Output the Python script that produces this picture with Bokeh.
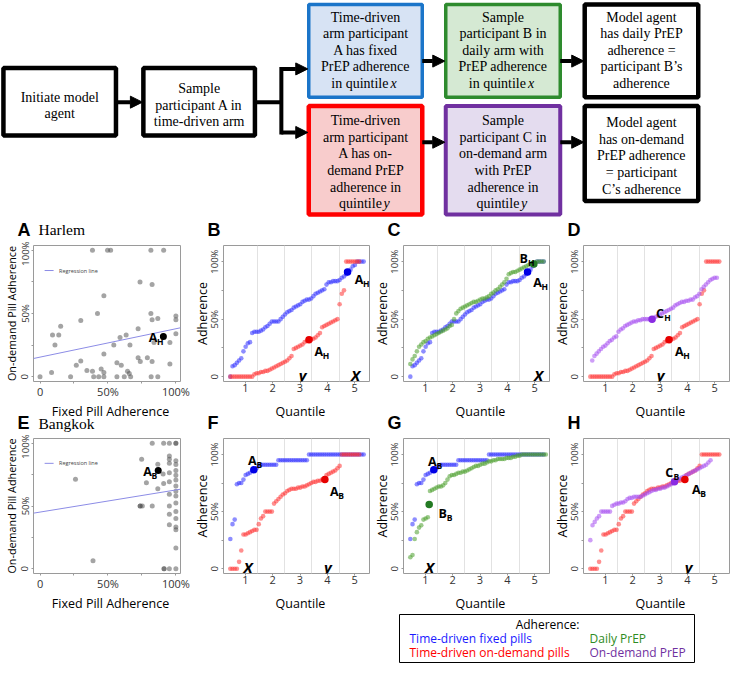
import math
from bokeh.plotting import figure
from bokeh.models import Range1d, Label, FixedTicker, Arrow, NormalHead
from bokeh.layouts import column, row
from bokeh.embed import file_html
from bokeh.resources import INLINE
from bokeh.core.properties import value

# ---------------- DATA ----------------
PCT_TICKS = [0, 25, 50, 75, 100]
PCT_LABELS = {0: "0", 25: "", 50: "50%", 75: "", 100: "100%"}
QUANT_TICKS = [1, 2, 3, 4, 5]
QUANT_BOUNDS = [1.43, 2.43, 3.43, 4.43]
STEP = 0.08  # spacing of one participant on the quantile axis

# Panel A (Harlem) scatter: fixed vs on-demand adherence (%)
HARLEM_FIXED = [0, 8.5, 9.2, 11, 13.8, 15.2, 22.5, 26.7, 30, 30, 34.5, 38.6, 38.6, 39.5, 42.3, 43.2, 45, 47, 47, 47,
                47, 49.7, 52, 54.3, 56.6, 56.6, 58.9, 59.8, 62, 63.4, 64.4, 65.7, 66.2, 66.7, 72.2, 72.2, 73.6, 73.8, 79, 81.6,
                81.6, 82.5, 82.5, 82.5, 81.8, 83.9, 86.7, 86.7, 91, 95.6, 95.6, 100, 100, 100]
HARLEM_ONDEM = [0, 3.3, 33, 25, 33, 40, 0, 9, 12.5, 44.5, 5, 100, 4.3, 0, 50, 0, 6, 64, 18, 3.3,
                0, 100, 100, 25, 11, 0, 31, 9, 0, 33, 4.3, 2.5, 25, 0, 38, 15, 75, 12, 15, 100,
                50, 73, 45, 12, 0, 27, 46, 0, 100, 27, 10, 48, 45, 34]
# Panel E (Bangkok) scatter
BANGKOK_FIXED = [26.1, 39, 74.8, 73.7, 73.7, 75.3, 78.3, 82.6, 82.6, 86.7, 86.7, 90.6, 91, 91, 91.3, 91.3,
                 95.2, 95.2, 95.2, 95.2, 95.2, 95.2, 95.2, 95.2, 95.2, 95.2, 95.2,
                 100, 100, 100, 100, 100, 100, 100, 100, 100, 100, 100, 100, 100, 100, 100, 100, 100]
BANGKOK_ONDEM = [71.4, 6.4, 87.2, 50, 50, 50, 68.6, 100, 50, 83.2, 63.8, 75.5, 100, 68, 0, 0,
                 100, 89.8, 87.2, 84, 76.5, 69.4, 59.4, 50, 43.4, 35, 0,
                 100, 100, 86, 83, 78.3, 74.5, 70.7, 66, 61.7, 58, 52.3, 45.7, 40, 33.2, 31.1, 16.6, 0]
REG_X = [-4.8, 103.4]
REG_HARLEM = [14.4, 38.7]
REG_BANGKOK = [44.3, 63.4]
A_H_POINT = (90.8, 31.8)
A_B_POINT = (87.0, 78.3)

# Quantile (sorted adherence, %) series, with x position of first participant
H_FIXED_X0 = 0.45
H_FIXED = [0, 9, 10, 12, 14, 16, 22, 26, 29, 30, 38, 39, 39, 39, 40, 41, 43, 44, 46, 48,
           48, 48, 48, 50, 52, 54, 56, 57, 58, 60, 61, 62, 63, 65, 66, 67, 67, 68, 70, 72,
           73, 74, 75, 76, 80, 82, 82, 83, 83, 83, 84, 86, 87, 89, 91, 93, 96, 97, 100, 100, 100, 100]
H_TDOD_X0 = 0.45
H_TDOD = [0, 0, 0, 0, 0, 0, 0, 0, 0, 0, 0, 2, 3, 3, 4, 4, 5, 5, 6, 7, 8, 9, 10, 11, 12, 13, 14, 16, 18, 24,
          25, 26, 27, 28, 30, 31, 32, 33, 33, 34, 36, 38, 43, 44, 45, 46, 47, 48, 49, 50, 63, 72, 75,
          100, 100, 100, 100, 100, 100, 100]
H_DAILY_X0 = 0.45
H_DAILY = [11, 15, 18, 22, 26, 28, 30, 31, 33, 34, 35, 36, 37, 38, 39, 40, 41, 42, 44, 45,
           50, 55, 57, 59, 60, 61, 62, 63, 64, 65, 65, 66, 67, 68, 68, 69, 70, 72, 73, 75,
           76, 78, 80, 82, 85, 89, 90, 91, 91, 92, 93, 94, 95, 96, 97, 98, 98, 99, 100, 100, 100, 100]
H_ODPREP_X0 = 0.52
H_ODPREP = [14, 18, 20, 22, 24, 26, 27, 29, 31, 32, 34, 35, 39, 41, 42, 44, 45, 46, 47, 48,
            48, 49, 49, 50, 50, 50, 50, 50, 51, 52, 53, 54, 55, 56, 57, 58, 59, 60, 62, 63,
            64, 65, 65, 66, 66, 67, 67, 69, 70, 72, 76, 78, 80, 82, 84, 85, 86, 86]
B_FIXED_X0 = 0.45
B_FIXED = [26, 39, 43, 74, 75, 75, 78, 82, 83, 84, 86, 87, 88, 90, 91, 91, 91, 91, 91, 91, 91, 91,
           95, 95, 95, 95, 95, 95, 95, 95, 95, 95, 95, 95, 95, 95,
           100, 100, 100, 100, 100, 100, 100, 100, 100, 100, 100, 100, 100,
           100, 100, 100, 100, 100, 100, 100, 100, 100, 100, 100, 100, 100]
B_TDOD_X0 = 0.45
B_TDOD = [0, 0, 0, 0, 6, 16, 30, 30, 31, 32, 33, 34, 34, 39, 44, 46, 50, 50, 50, 50,
          57, 59, 61, 63, 65, 66, 68, 69, 70, 70, 70, 71, 71, 72, 72, 73, 74, 75, 76, 76,
          77, 77, 78, 78, 82, 83, 84, 85, 86, 88, 90, 100, 100, 100, 100, 100, 100, 100, 100, 100]
B_DAILY_X0 = 0.45
B_DAILY = [10, 12, 26, 32, 36, 38, 43, 44, 45, 68, 69, 70, 71, 72, 72, 73, 75, 78, 81, 82,
           82, 83, 84, 84, 85, 85, 86, 87, 88, 89, 90, 90, 91, 92, 92, 93, 94, 94, 95, 95,
           96, 96, 96, 96, 97, 97, 97, 98, 98, 99, 99, 100, 100, 100, 100, 100, 100, 100, 100, 100, 100, 100, 100]
B_ODPREP_X0 = 0.45
B_ODPREP = [25, 38, 41, 44, 46, 50, 50, 50, 50, 50, 55, 56, 57, 57, 58, 58, 59, 61, 62, 62,
            63, 63, 63, 63, 64, 65, 66, 67, 68, 69, 69, 70, 70, 71, 71, 72, 73, 74, 75, 77,
            78, 79, 80, 81, 82, 83, 84, 85, 86, 87, 88, 89, 90, 91, 93, 95]

# Sampled participants (quantile, adherence %)
HB_A_FIXED = (4.74, 91)
HB_A_OD = (3.33, 32)
HC_B = (4.97, 98)
HD_C = (2.71, 50)
BF_A_FIXED = (1.31, 86.6)
BF_A_OD = (3.91, 78.2)
BG_B = (1.14, 56.3)
BH_C = (3.53, 76.2)

PANEL_LETTERS = ["A", "B", "C", "D", "E", "F", "G", "H"]
CITIES = ["Harlem", "Bangkok"]
X_TITLES = ["Fixed Pill Adherence", "Quantile", "Quantile", "Quantile"]
FLOW_TEXT = {
    "init": ["Initiate model", "agent"],
    "sample": ["Sample", "participant A in", "time-driven arm"],
    "blue": ["Time-driven", "arm participant", "A has fixed", "PrEP adherence", "in quintile|x"],
    "green": ["Sample", "participant B in", "daily arm with", "PrEP adherence", "in quintile|x"],
    "black1": ["Model agent", "has daily PrEP", "adherence =", "participant B\u2019s", "adherence"],
    "red": ["Time-driven", "arm participant", "A has on-", "demand PrEP", "adherence in", "quintile|y"],
    "purple": ["Sample", "participant C in", "on-demand arm", "with PrEP", "adherence in", "quintile|y"],
    "black2": ["Model agent", "has on-demand", "PrEP adherence", "= participant", "C\u2019s adherence"],
}
LEGEND_TITLE = "Adherence:"
LEGEND_ITEMS = ["Time-driven fixed pills", "Daily PrEP", "Time-driven on-demand pills", "On-demand PrEP"]

# ---------------- STYLE / LAYOUT ----------------
BLUE, RED, GREEN, PURPLE = "#3030ff", "#ff3333", "#4a9e2c", "#a64ff0"
BLUE_D, RED_D, GREEN_D, PURPLE_D = "#0000e6", "#e60000", "#237a23", "#8a2be2"
SANS = "Open Sans"
SERIF = "Liberation Serif"
W = 731
LEFT = 32           # room for y axis
FRAME_W = 148
A_RIGHT = 10        # room for the "100%" tick label of panels A/E
FRAME_LEFTS = [LEFT, LEFT * 2 + FRAME_W + A_RIGHT, LEFT * 3 + FRAME_W * 2 + A_RIGHT, LEFT * 4 + FRAME_W * 3 + A_RIGHT]
ROWS = {1: (4, 18, 160), 2: (4, 18, 159)}


def add_text(p, x, y, text, size, font=SANS, style="normal", color="black",
             align="left", baseline="middle", xo=0, yo=0):
    p.add_layout(Label(x=x, y=y, text=text, text_font=font, text_font_size=f"{size}px",
                       text_font_style=style, text_color=color, text_align=align,
                       text_baseline=baseline, x_offset=xo, y_offset=yo))


def sub_label(p, x, y, main, sub):
    add_text(p, x, y, main, 12.5, style="bold")
    add_text(p, x, y, sub, 8.5, style="bold", xo=8.3, yo=-4)


def base_fig(width, right, rowi, xr, yr, ylabel, ylab_size, ylab_standoff):
    top, bottom, height = ROWS[rowi]
    p = figure(width=width, height=height, x_range=Range1d(*xr), y_range=Range1d(*yr),
               output_backend="svg", toolbar_location=None,
               min_border_left=LEFT, min_border_right=right, min_border_top=top, min_border_bottom=bottom)
    p.background_fill_color = "white"
    p.border_fill_color = "white"
    p.outline_line_color = "#9a9a9a"
    p.outline_line_width = 1
    p.ygrid.visible = False
    p.axis.axis_line_color = None
    p.axis.major_tick_line_color = "#9a9a9a"
    p.axis.major_tick_in = 0
    p.axis.major_tick_out = 2
    p.axis.major_label_standoff = 0
    p.axis.minor_tick_line_color = None
    p.axis.major_label_text_font = SANS
    p.axis.major_label_text_color = "#333333"
    p.yaxis.major_label_orientation = "vertical"
    p.yaxis.major_label_text_font_size = "9.5px"
    p.yaxis.ticker = FixedTicker(ticks=PCT_TICKS)
    p.yaxis.major_label_overrides = PCT_LABELS
    p.yaxis.axis_label = ylabel
    p.yaxis.axis_label_text_font = SANS
    p.yaxis.axis_label_text_font_style = "normal"
    p.yaxis.axis_label_text_color = "black"
    p.yaxis.axis_label_text_font_size = f"{ylab_size}px"
    p.yaxis.axis_label_standoff = ylab_standoff
    p.xaxis.major_label_text_font_size = "11px"
    return p


def scatter_panel(fx, oy, reg_y, pt, sub, lab_x, rowi):
    p = base_fig(LEFT + FRAME_W + A_RIGHT, A_RIGHT, rowi, (-4.8, 103.4), (-3.8, 103.8),
                 "On-demand Pill Adherence", 10.8, -3)
    p.xaxis.ticker = FixedTicker(ticks=PCT_TICKS)
    p.xaxis.major_label_overrides = PCT_LABELS
    p.xgrid.visible = False
    p.scatter(fx, oy, size=5, color="#4a4a4a", alpha=0.5, line_color=None)
    p.line(REG_X, reg_y, color="#8c8ce6", line_width=1)
    p.line([3.4, 10], [84, 84], color="#8c8ce6", line_width=1)
    add_text(p, 14, 84, "Regression line", 5.5, color="#444444")
    p.scatter([pt[0]], [pt[1]], size=7, color="black", line_color=None)
    sub_label(p, lab_x, pt[1] - 1, "A", sub)
    return p


def quant_panel(series, bigs, labels, marks, rowi):
    p = base_fig(LEFT + FRAME_W, 0, rowi, (0.2, 5.58), (-4.2, 114), "Adherence", 12.5, -5)
    p.xaxis.ticker = FixedTicker(ticks=QUANT_TICKS)
    p.xgrid.ticker = FixedTicker(ticks=QUANT_BOUNDS)
    p.xgrid.grid_line_color = "#e2e2e2"
    for ys, x0, color in series:
        xs = [x0 + STEP * i for i in range(len(ys))]
        p.scatter(xs, ys, size=4.6, color=color, alpha=0.55, line_color=None)
    for (bx, by), color in bigs:
        p.scatter([bx], [by], size=7.5, color=color, line_color=None)
    for lx, ly, main, sub in labels:
        sub_label(p, lx, ly, main, sub)
    for mx, mt in marks:
        add_text(p, mx, 1.5, mt, 15, style="bold italic", align="center", baseline="alphabetic")
    return p


pA = scatter_panel(HARLEM_FIXED, HARLEM_ONDEM, REG_HARLEM, A_H_POINT, "H", 80, 1)
pB = quant_panel([(H_FIXED, H_FIXED_X0, BLUE), (H_TDOD, H_TDOD_X0, RED)],
                 [(HB_A_FIXED, BLUE_D), (HB_A_OD, RED_D)],
                 [(5.0, 84.5, "A", "H"), (3.53, 22, "A", "H")], [(3.1, "y"), (5.03, "X")], 1)
pC = quant_panel([(H_FIXED, H_FIXED_X0, BLUE), (H_DAILY, H_DAILY_X0, GREEN)],
                 [(HC_B, GREEN_D), (HB_A_FIXED, BLUE_D)],
                 [(4.45, 103, "B", "H"), (4.95, 82, "A", "H")], [(5.14, "X")], 1)
pD = quant_panel([(H_TDOD, H_TDOD_X0, RED), (H_ODPREP, H_ODPREP_X0, PURPLE)],
                 [(HD_C, PURPLE_D), (HB_A_OD, RED_D)],
                 [(2.85, 55, "C", "H"), (3.55, 22, "A", "H")], [(3.02, "y")], 1)
pE = scatter_panel(BANGKOK_FIXED, BANGKOK_ONDEM, REG_BANGKOK, A_B_POINT, "B", 76, 2)
pF = quant_panel([(B_FIXED, B_FIXED_X0, BLUE), (B_TDOD, B_TDOD_X0, RED)],
                 [(BF_A_FIXED, BLUE_D), (BF_A_OD, RED_D)],
                 [(1.1, 94.5, "A", "B"), (4.1, 68, "A", "B")], [(1.1, "X"), (4.02, "y")], 2)
pG = quant_panel([(B_FIXED, B_FIXED_X0, BLUE), (B_DAILY, B_DAILY_X0, GREEN)],
                 [(BF_A_FIXED, BLUE_D), (BG_B, GREEN_D)],
                 [(1.1, 94, "A", "B"), (1.48, 48, "B", "B")], [(1.15, "X")], 2)
pH = quant_panel([(B_TDOD, B_TDOD_X0, RED), (B_ODPREP, B_ODPREP_X0, PURPLE)],
                 [(BH_C, PURPLE_D), (BF_A_OD, RED_D)],
                 [(3.19, 84.5, "C", "B"), (4.17, 69.5, "A", "B")], [(4.05, "y")], 2)


def strip(height):
    # a plain drawing strip in screen pixels (y grows downward)
    s = figure(width=W, height=height, x_range=Range1d(0, W), y_range=Range1d(height, 0),
               output_backend="svg", toolbar_location=None, min_border=0)
    s.axis.visible = False
    s.grid.visible = False
    s.outline_line_color = None
    s.background_fill_color = "white"
    return s


def header(s, letters, city, mid_y):
    s.text(x=[fl - 15 for fl in FRAME_LEFTS], y=[mid_y] * 4, text=letters, text_font=value("Liberation Sans"),
           text_font_size=value("18px"), text_font_style="bold", text_align="left",
           text_baseline="middle", text_color="black")
    s.text(x=[FRAME_LEFTS[0] + 6], y=[mid_y], text=[city], text_font=value(SERIF), text_font_size=value("15.5px"),
           text_align="left", text_baseline="middle", text_color="black")


def x_titles(s, mid_y):
    s.text(x=[fl + FRAME_W / 2 + 4 for fl in FRAME_LEFTS], y=[mid_y] * 4, text=X_TITLES,
           text_font=value(SANS), text_font_size=value("12.5px"), text_align="center",
           text_baseline="middle", text_color="black")


s1 = strip(24)
header(s1, PANEL_LETTERS[:4], CITIES[0], 12)
s2 = strip(33)
x_titles(s2, 9.5)
header(s2, PANEL_LETTERS[4:], CITIES[1], 21.5)
s3 = strip(70)
x_titles(s3, 9.5)

# ---------------- FLOWCHART ----------------
fp = figure(width=W, height=217, x_range=Range1d(0, 747), y_range=Range1d(222, 0),
            output_backend="svg", toolbar_location=None, min_border=0)
fp.axis.visible = False
fp.grid.visible = False
fp.outline_line_color = None

BOX_LAYOUT = {
    # key: (left, right, top, bottom, fill, line, width, first_line_y)
    "init": (3, 118, 69, 138, "white", "black", 4.5, 99),
    "sample": (146, 260, 69, 138, "white", "black", 4.5, 90),
    "blue": (315, 431, 4, 99, "#d7e3f4", "#1b75c9", 3.5, 17),
    "green": (455, 572, 4, 99, "#d5e9d3", "#2e8b2e", 3.5, 17),
    "black1": (597, 713, 4, 99, "white", "black", 4.5, 17),
    "red": (315, 431, 108, 219, "#f8cccc", "#ff0000", 4.5, 123),
    "purple": (455, 572, 108, 219, "#e4dcef", "#7030a0", 4, 123),
    "black2": (597, 713, 108, 205, "white", "black", 4.5, 125),
}
LINE_H = 17
for key, (l, r, t, b, fill, lc, lw, y0) in BOX_LAYOUT.items():
    fp.quad(left=[l], right=[r], top=[t], bottom=[b], fill_color=fill, line_color=lc, line_width=lw)
    cx = (l + r) / 2
    xs, ys, ts = [], [], []
    for i, line in enumerate(FLOW_TEXT[key]):
        y = y0 + i * LINE_H
        if "|" in line:
            main, it = line.split("|")
            if main == "in quintile":
                mx, ix = cx - 35, cx + 25.5
            else:
                mx, ix = cx - 27, cx + 18.5
            fp.text(x=[mx], y=[y], text=[main], text_font=value(SERIF), text_font_size=value("14px"),
                    text_align="left", text_baseline="middle", text_color="black")
            fp.text(x=[ix], y=[y], text=[it], text_font=value(SERIF), text_font_size=value("14px"),
                    text_font_style="italic", text_align="left", text_baseline="middle", text_color="black")
        else:
            xs.append(cx); ys.append(y); ts.append(line)
    fp.text(x=xs, y=ys, text=ts, text_font=value(SERIF), text_font_size=value("14px"),
            text_align="center", text_baseline="middle", text_color="black")

fp.line([260, 287], [104, 104], color="black", line_width=4)
fp.line([287, 287], [68, 137], color="black", line_width=4)
ARROWS = [(118, 104, 146), (287, 70, 315), (287, 135, 315), (431, 62, 455), (572, 62, 597),
          (431, 145, 455), (572, 145, 597)]
for xs_, y_, xe_ in ARROWS:
    fp.add_layout(Arrow(end=NormalHead(size=12, fill_color="black", line_color="black", line_width=1),
                        x_start=xs_, y_start=y_, x_end=xe_ - 1, y_end=y_, line_width=4, line_color="black"))

# ---------------- LEGEND (inside strip s3, screen pixels) ----------------
s3.quad(left=[399], right=[694], top=[21], bottom=[69], fill_color=None, line_color="black", line_width=1)
s3.text(x=[547], y=[31], text=[LEGEND_TITLE], text_font=value(SANS), text_font_size=value("12px"),
        text_align="center", text_baseline="middle", text_color="black")
LEG_POS = [(409, 45, "#1a1aff"), (589, 45, "#2e8b22"), (409, 59, "#ff0000"), (589, 59, "#7030a0")]
for (lx, ly, lc), txt in zip(LEG_POS, LEGEND_ITEMS):
    s3.text(x=[lx], y=[ly], text=[txt], text_font=value(SANS), text_font_size=value("12px"),
            text_align="left", text_baseline="middle", text_color=lc)

layout = column(fp, s1, row(pA, pB, pC, pD), s2, row(pE, pF, pG, pH), s3)
open("out.html", "w").write(file_html(layout, INLINE))
